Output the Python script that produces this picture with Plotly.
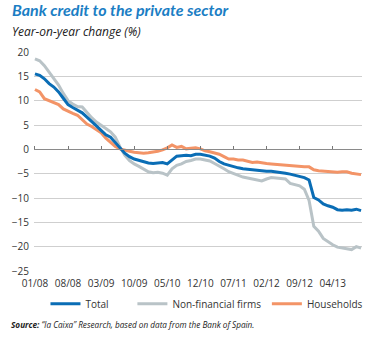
import plotly.graph_objects as go

months = list(range(70))
tick_idx = [0, 7, 14, 21, 28, 35, 42, 49, 56, 63]
tick_labels = ["01/08", "08/08", "03/09", "10/09", "05/10", "12/10", "07/11", "02/12", "09/12", "04/13"]

total = [15.5, 15.2, 14.5, 13.5, 12.8, 11.8, 10.5, 9.2, 8.6, 8.0,
         7.5, 6.6, 5.6, 4.8, 3.9, 3.0, 2.5, 1.5, 0.3, -0.8,
         -1.5, -2.0, -2.3, -2.6, -2.8, -2.9, -2.8, -2.7, -3.0, -2.2,
         -1.4, -1.3, -1.2, -1.3, -1.0, -1.0, -1.2, -1.4, -1.8, -2.5,
         -3.0, -3.3, -3.5, -3.8, -4.0, -4.1, -4.3, -4.4, -4.5, -4.5,
         -4.5, -4.6, -4.7, -4.9, -5.1, -5.3, -5.5, -5.8, -6.3, -9.9,
         -10.4, -11.2, -11.6, -11.9, -12.4, -12.5, -12.4, -12.5, -12.3, -12.6]

nonfin = [18.6, 18.2, 17.2, 15.8, 14.5, 13.2, 11.5, 10.0, 9.3, 8.8,
          8.7, 7.5, 6.5, 5.6, 5.0, 4.3, 3.6, 2.5, 0.5, -1.2,
          -2.3, -3.0, -3.5, -4.0, -4.6, -4.8, -4.7, -4.9, -5.3, -4.0,
          -3.3, -3.0, -2.5, -2.3, -2.0, -2.0, -2.2, -2.4, -2.9, -3.4,
          -4.0, -4.6, -5.0, -5.4, -5.7, -5.9, -6.1, -6.3, -6.5, -6.1,
          -5.8, -5.9, -6.0, -6.1, -7.0, -7.2, -7.5, -8.2, -10.5, -15.8,
          -16.8, -18.3, -19.0, -19.6, -20.1, -20.3, -20.4, -20.6, -20.0, -20.3]

households = [12.3, 11.8, 10.4, 10.0, 9.7, 9.2, 8.3, 7.8, 7.4, 7.0,
              6.0, 5.2, 4.7, 4.1, 3.4, 2.3, 1.5, 0.6, 0.1, -0.2,
              -0.4, -0.6, -0.7, -0.8, -0.7, -0.6, -0.4, -0.1, 0.3, 0.9,
              0.4, 0.6, 0.1, 0.2, 0.3, 0.1, -0.3, -0.5, -0.8, -1.0,
              -1.5, -2.0, -2.0, -2.2, -2.2, -2.5, -2.7, -2.6, -2.8, -2.9,
              -3.0, -3.1, -3.1, -3.2, -3.3, -3.4, -3.5, -3.6, -3.6, -4.2,
              -4.4, -4.5, -4.6, -4.7, -4.7, -4.6, -4.6, -4.9, -5.1, -5.2]

y_ticks = [20, 15, 10, 5, 0, -5, -10, -15, -20, -25]

BLUE = "#0a6db5"
GRAY = "#b9c3c7"
ORANGE = "#f39467"
FONT = "Open Sans"

fig = go.Figure()
fig.add_trace(go.Scatter(x=months, y=nonfin, mode="lines", name="Non-financial firms",
                         line=dict(color=GRAY, width=3), legend="legend2"))
fig.add_trace(go.Scatter(x=months, y=households, mode="lines", name="Households",
                         line=dict(color=ORANGE, width=3), legend="legend3"))
fig.add_trace(go.Scatter(x=months, y=total, mode="lines", name="Total",
                         line=dict(color=BLUE, width=3), legend="legend"))
# invisible trace to carry the zero-line axis with ticks
fig.add_trace(go.Scatter(x=months, y=[None] * len(months), xaxis="x2", mode="lines",
                         showlegend=False, hoverinfo="skip"))

rng = [-0.2, 69.2]
leg_font = dict(size=10, color="#333333")
fig.update_layout(
    width=380, height=338,
    margin=dict(l=30, r=12, t=52, b=67),
    paper_bgcolor="white", plot_bgcolor="white",
    font=dict(family=FONT, size=10, color="#333333"),
    xaxis=dict(range=rng, tickmode="array", tickvals=tick_idx, ticktext=tick_labels,
               showgrid=False, zeroline=False, showline=False, ticks="",
               ticklabelstandoff=5,
               tickfont=dict(size=10, color="#333333")),
    xaxis2=dict(range=rng, overlaying="x", anchor="free", position=25 / 45, side="top",
                tickmode="array", tickvals=tick_idx, showticklabels=False,
                ticks="outside", ticklen=3, tickcolor="#777777", tickwidth=1,
                showline=True, linecolor="#8a8a8a", linewidth=1.2, showgrid=False,
                zeroline=False),
    yaxis=dict(range=[-25, 20], tickmode="array", tickvals=y_ticks,
               showgrid=True, gridcolor="#cfcfcf", gridwidth=1, zeroline=False,
               ticks="", showline=False, tickfont=dict(size=10, color="#333333"),
               ticklabelstandoff=4),
    showlegend=True,
    legend=dict(x=0.035, y=-0.15, xref="paper", yref="paper", xanchor="left", yanchor="middle",
                orientation="h", font=leg_font, bgcolor="rgba(0,0,0,0)"),
    legend2=dict(x=0.3, y=-0.15, xanchor="left", yanchor="middle",
                 orientation="h", font=leg_font, bgcolor="rgba(0,0,0,0)"),
    legend3=dict(x=0.71, y=-0.15, xanchor="left", yanchor="middle",
                 orientation="h", font=leg_font, bgcolor="rgba(0,0,0,0)"),
)

fig.add_annotation(text="<b><i>Bank credit to the private sector</i></b>",
                   x=0, y=1, xref="paper", yref="paper", xanchor="left", yanchor="top",
                   xshift=-24, yshift=54, showarrow=False,
                   font=dict(family="Lato", size=16, color="#1b7ec4"))
fig.add_annotation(text="<i>Year-on-year change (%)</i>",
                   x=0, y=1, xref="paper", yref="paper", xanchor="left", yanchor="top",
                   xshift=-24, yshift=31, showarrow=False,
                   font=dict(family=FONT, size=12, color="#222222"))
fig.add_annotation(text="<b><i>Source:</i></b><i> “la Caixa” Research, based on data from the Bank of Spain.</i>",
                   x=0, y=0, xref="paper", yref="paper", xanchor="left", yanchor="middle",
                   xshift=-25, yshift=-53, showarrow=False,
                   font=dict(family=FONT, size=8.2, color="#222222"))

fig.write_html("out.html")
